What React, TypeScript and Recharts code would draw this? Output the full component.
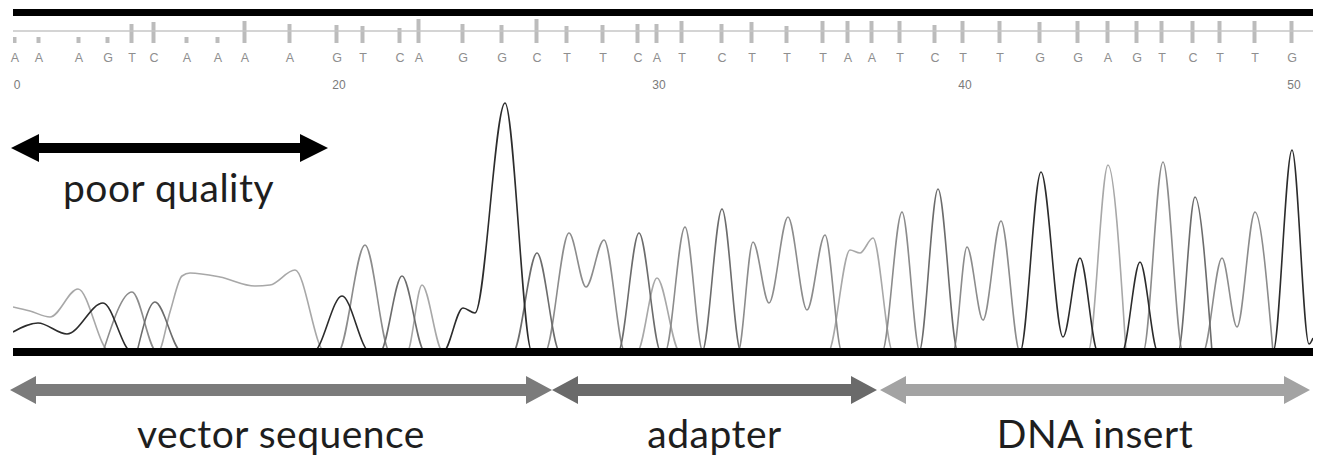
import React from 'react';
import { ComposedChart, Line, Bar, XAxis, YAxis, ReferenceLine } from 'recharts';

// Base calls 10..50, with the scan position of each call
const firstBase = 10;
const basePositions = [
  15, 39, 79, 108, 132, 154, 187, 218, 245, 290,
  337, 363, 400, 419, 463, 502, 537, 567, 603, 638,
  657, 682, 722, 752, 787, 823, 848, 872, 900, 935,
  963, 1000, 1040, 1078, 1108, 1137, 1162, 1193, 1220, 1255,
  1292,
];
const baseCalls = [
  'A', 'A', 'A', 'G', 'T', 'C', 'A', 'A', 'A', 'A',
  'G', 'T', 'C', 'A', 'G', 'G', 'C', 'T', 'T', 'C',
  'A', 'T', 'C', 'T', 'T', 'T', 'A', 'A', 'T', 'C',
  'T', 'T', 'G', 'G', 'A', 'G', 'T', 'C', 'T', 'T',
  'G',
];
const callQuality = [
  6, 6, 6, 6, 19, 21, 6, 6, 22, 19,
  18, 17, 15, 24, 19, 18, 24, 17, 18, 19,
  19, 22, 19, 21, 17, 22, 22, 22, 22, 18,
  22, 22, 21, 22, 22, 22, 22, 22, 22, 22,
  22,
];
const numberedBases = [10, 20, 30, 40, 50];
const numberLabels = ['0', '20', '30', '40', '50'];

// Trace signal per channel: [scan, intensity]
const traceA = [
  [13, 45], [30, 41], [50, 35], [78, 63], [110, 0],
  [158, 0], [170, 40], [182, 76], [190, 79], [220, 75], [255, 66], [270, 67], [295, 82], [325, 0],
  [407, 0], [422, 67], [443, 0],
  [637, 0], [657, 74], [680, 0],
  [828, 0], [850, 102], [860, 99], [873, 114], [893, 0],
  [1088, 0], [1108, 187], [1126, 0],
];
const traceC = [
  [137, 0], [155, 50], [182, 0],
  [380, 0], [402, 76], [425, 0],
  [513, 0], [537, 99], [560, 0],
  [618, 0], [639, 119], [661, 0],
  [702, 0], [722, 143], [741, 0],
  [919, 0], [938, 163], [958, 0],
  [1178, 0], [1195, 155], [1212, 0],
];
const traceG = [
  [13, 20], [38, 29], [67, 18], [103, 49], [132, 0],
  [313, 0], [342, 56], [370, 0],
  [443, 0], [463, 44], [475, 39], [505, 249], [532, 0],
  [1020, 0], [1041, 180], [1063, 15], [1080, 94], [1098, 0],
  [1122, 0], [1140, 90], [1158, 0],
  [1273, 0], [1292, 202], [1309, 8], [1313, 14],
];
const traceT = [
  [103, 0], [132, 60], [157, 0],
  [338, 0], [365, 107], [390, 0],
  [545, 0], [569, 119], [586, 65], [604, 112], [625, 0],
  [665, 0], [685, 125], [703, 0],
  [738, 0], [753, 110], [769, 49], [788, 135], [807, 42], [825, 117], [842, 0],
  [882, 0], [902, 140], [920, 0],
  [953, 0], [967, 105], [983, 32], [1001, 131], [1020, 0],
  [1143, 0], [1163, 190], [1183, 0],
  [1203, 0], [1222, 94], [1237, 25], [1255, 140], [1273, 0],
];

const regions = [
  { name: 'vector sequence', from: 10, to: 552, color: '#7b7b7b' },
  { name: 'adapter', from: 552, to: 877, color: '#6a6a6a' },
  { name: 'DNA insert', from: 880, to: 1310, color: '#a3a3a3' },
];
const poorQuality = { name: 'poor quality', from: 11, to: 328 };

const toPoints = (t: number[][]) => t.map(([x, v]) => ({ x, v }));

const headerData = basePositions.map((pos, i) => ({ pos, q: callQuality[i] }));

const BaseTick = (props: any) => {
  const { x, payload } = props;
  const i = basePositions.indexOf(payload.value);
  const n = numberedBases.indexOf(firstBase + i);
  return (
    <g>
      <text x={x} y={62} textAnchor="middle" fontFamily="'Liberation Sans', Arial, sans-serif" fontSize={12.5} fill="#8e8e8e">
        {baseCalls[i]}
      </text>
      {n >= 0 && (
        <text x={x + 2} y={89} textAnchor="middle" fontFamily="'Liberation Sans', Arial, sans-serif" fontSize={12} fill="#7a7a7a">
          {numberLabels[n]}
        </text>
      )}
    </g>
  );
};

// double headed arrow with a caption underneath
const arrowShape = (label: string, color: string, head: number, headH: number, shaft: number, labelDy: number, labelX?: number) =>
  (props: any) => {
    const { x1, y1, x2 } = props;
    const y = y1;
    const pts = [
      [x1, y], [x1 + head, y - headH], [x1 + head, y - shaft], [x2 - head, y - shaft], [x2 - head, y - headH],
      [x2, y], [x2 - head, y + headH], [x2 - head, y + shaft], [x1 + head, y + shaft], [x1 + head, y + headH],
    ].map((p) => p.join(',')).join(' ');
    return (
      <g>
        <polygon points={pts} fill={color} />
        <text
          x={labelX !== undefined ? labelX : (x1 + x2) / 2}
          y={y + labelDy}
          textAnchor={labelX !== undefined ? 'start' : 'middle'}
          fontFamily="Lato, 'Open Sans', sans-serif"
          fontSize={39}
          letterSpacing={0.5}
          fill="#1e1e1e"
        >
          {label}
        </text>
      </g>
    );
  };

const App = () => {
  return (
    <div style={{ position: 'absolute', left: 0, top: 0, width: 1324, height: 464, background: '#fff' }}>
      <div style={{ position: 'absolute', left: 0, top: 0 }}>
        <ComposedChart width={1324} height={100} data={headerData} margin={{ top: 9, right: 11, bottom: 17, left: 13 }}>
          <XAxis
            dataKey="pos"
            type="number"
            domain={[13, 1313]}
            allowDataOverflow
            ticks={basePositions}
            interval={0}
            tick={<BaseTick />}
            axisLine={false}
            tickLine={false}
            height={40}
          />
          <YAxis hide domain={[0, 34]} allowDataOverflow />
          <ReferenceLine y={12} stroke="#c6c6c6" strokeWidth={1.5} />
          <Bar dataKey="q" barSize={4} fill="#bcbcbc" isAnimationActive={false} />
          <ReferenceLine y={30.5} stroke="#000" strokeWidth={7} />
        </ComposedChart>
      </div>
      <div style={{ position: 'absolute', left: 0, top: 0 }}>
        <ComposedChart width={1324} height={464} margin={{ top: 102, right: 11, bottom: 112, left: 13 }}>
          <XAxis hide dataKey="x" type="number" domain={[13, 1313]} allowDataOverflow />
          <YAxis hide domain={[0, 250]} allowDataOverflow />
          <Line data={toPoints(traceA)} dataKey="v" type="monotone" stroke="#a8a8a8" strokeWidth={1.6} dot={false} isAnimationActive={false} />
          <Line data={toPoints(traceT)} dataKey="v" type="monotone" stroke="#8c8c8c" strokeWidth={1.6} dot={false} isAnimationActive={false} />
          <Line data={toPoints(traceC)} dataKey="v" type="monotone" stroke="#6c6c6c" strokeWidth={1.6} dot={false} isAnimationActive={false} />
          <Line data={toPoints(traceG)} dataKey="v" type="monotone" stroke="#2c2c2c" strokeWidth={1.6} dot={false} isAnimationActive={false} />
          <ReferenceLine y={0} stroke="#000" strokeWidth={8} ifOverflow="visible" />
          <ReferenceLine
            segment={[{ x: poorQuality.from, y: 204 }, { x: poorQuality.to, y: 204 }]}
            ifOverflow="visible"
            shape={arrowShape(poorQuality.name, '#000', 28, 14, 5, 54, 63)}
          />
          {regions.map((r) => (
            <ReferenceLine
              key={r.name}
              segment={[{ x: r.from, y: -38 }, { x: r.to, y: -38 }]}
              ifOverflow="visible"
              shape={arrowShape(r.name, r.color, 26, 14, 6, 58)}
            />
          ))}
        </ComposedChart>
      </div>
    </div>
  );
};

export default App;
